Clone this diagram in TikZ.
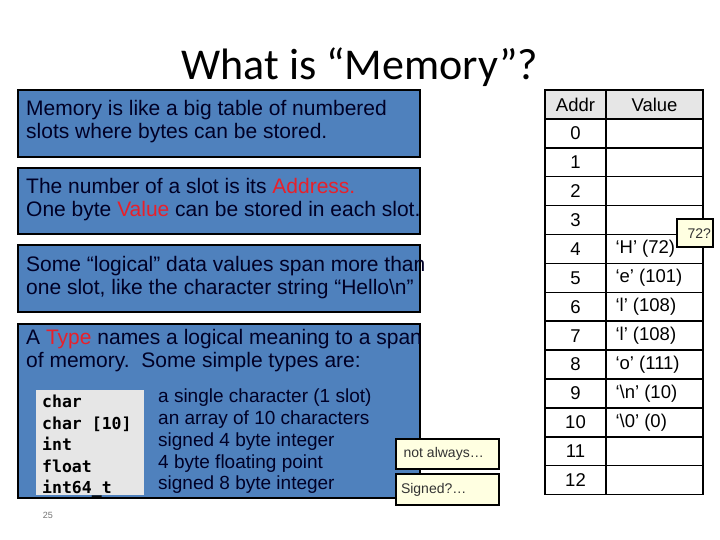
\documentclass[tikz,border=0pt]{standalone}
\usepackage{fontspec}
\setmainfont{Liberation Sans}
\newfontfamily\titlefont{Carlito}
\newfontfamily\codefont{DejaVu Sans Mono}
\usetikzlibrary{positioning}

\definecolor{slideblue}{HTML}{4F81BD}
\definecolor{hilite}{HTML}{E8202A}
\definecolor{notecol}{HTML}{FFFFE1}
\definecolor{hdrgray}{HTML}{E6E6E6}

\tikzset{
  panel/.style={draw=black, line width=2.2pt, fill=slideblue},
  paneltext/.style={anchor=north west, align=left, font=\fontsize{21}{23}\selectfont, text=black!85!blue, inner sep=0pt},
  cell/.style={draw=black, line width=1.5pt},
  celltext/.style={font=\fontsize{18.5}{21}\selectfont},
  note/.style={draw=black, line width=2.4pt, fill=notecol, anchor=north west, font=\fontsize{14}{16}\selectfont, text=black!80, inner sep=0pt, align=left}
}

\begin{document}
\begin{tikzpicture}[x=1pt,y=-1pt]
    \useasboundingbox (0,0) rectangle (720,540);
    % Title
    \node[font=\titlefont\fontsize{44}{48}\selectfont] (title) at (360,67) {What is “Memory”?};

    % Text panels
    \draw[panel] (18,90) rectangle (420,157);
    \node[paneltext] (mem) at (26,100) {Memory is like a big table of numbered\\slots where bytes can be stored.};
    \draw[panel] (18,168) rectangle (420,234);
    \node[paneltext] (addr) at (26,178) {The number of a slot is its \textcolor{hilite}{Address.}\\One byte \textcolor{hilite}{Value} can be stored in each slot.};
    \draw[panel] (18,245) rectangle (420,312);
    \node[paneltext] (span) at (26,256) {Some “logical” data values span more than\\one slot, like the character string “Hello\textbackslash n”};
    \draw[panel] (18,324) rectangle (420,498);
    \node[paneltext] (type) at (26,329) {A \textcolor{hilite}{Type} names a logical meaning to a span\\of memory.\ \ Some simple types are:};

    % Type list
    \fill[hdrgray] (36,390) rectangle (144,495);
    \node[anchor=north west, align=left, inner sep=0pt, font=\codefont\bfseries\fontsize{16.5}{21.5}\selectfont] (codes) at (42,395)
      {char\\char [10]\\int\\float\\int64\_t};
    \node[anchor=north west, align=left, inner sep=0pt, text=black!85!blue, font=\fontsize{19}{21.7}\selectfont] (descr) at (158,389)
      {a single character (1 slot)\\an array of 10 characters\\signed 4 byte integer\\4 byte floating point\\signed 8 byte integer};

    % Memory table
    \def\rowh{28.9}
    \fill[hdrgray] (545,90) rectangle (703,118.9);
    \node[celltext] (hdra) at (575.5,104.5) {Addr};
    \node[celltext] (hdrv) at (654.5,104.5) {Value};
    \foreach \i/\v in {0/,1/,2/,3/,4/‘H’ (72),5/‘e’ (101),6/‘l’ (108),7/‘l’ (108),8/‘o’ (111),9/‘\textbackslash n’ (10),10/‘\textbackslash 0’ (0),11/,12/} {
      \pgfmathsetmacro\ymid{90+(\i+1.5)*\rowh}
      \node[celltext] (a\i) at (575.5,\ymid) {\i};
      \node[celltext, anchor=west] (v\i) at (612,\ymid) {\v};
    }
    \foreach \k in {1,...,13}
      \draw[cell] (545,{90+\k*\rowh}) -- (703,{90+\k*\rowh});
    \draw[cell] (606,90) -- (606,494.6);
    \draw[cell] (545,90) rectangle (703,494.6);

    % Notes
    \node[note, minimum width=36pt, minimum height=28pt] (n72) at (676,218) {\hspace{8pt}72?};
    \node[note, minimum width=103pt, minimum height=30pt] (nalw) at (395,438) {not always…\hspace{8pt}};
    \node[note, minimum width=103pt, minimum height=31pt] (nsig) at (395,473) {Signed?…\hspace{28pt}};

    % Slide number
    \node[font=\fontsize{9}{10}\selectfont, text=black!55] (pg) at (48,515) {25};
\end{tikzpicture}
\end{document}
